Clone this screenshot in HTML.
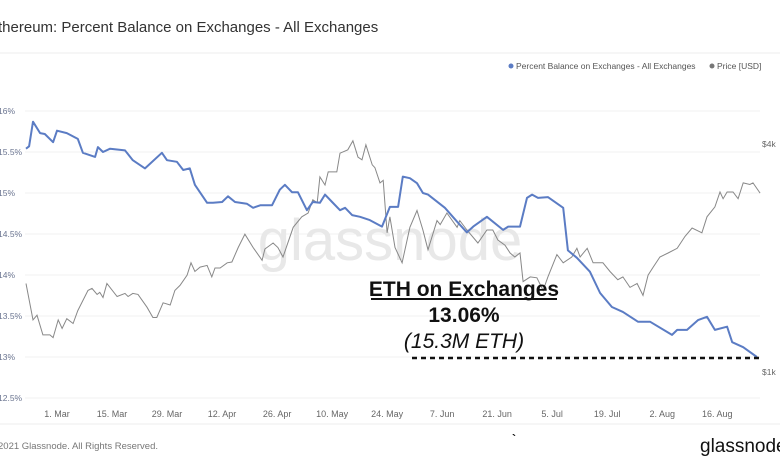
<!DOCTYPE html>
<html><head><meta charset="utf-8">
<style>
body{margin:0;background:#fff;width:780px;height:470px;overflow:hidden;font-family:"Liberation Sans",sans-serif;}
svg{display:block}
</style></head>
<body>
<svg id="chart" width="780" height="470">
  <text x="-2" y="32" font-size="15" fill="#333">thereum: Percent Balance on Exchanges - All Exchanges</text>
  <line x1="0" y1="53" x2="780" y2="53" stroke="#eee"/>
  <g>
    <g><circle cx="511" cy="66" r="2.5" fill="#5b7cc4"/><text x="516" y="69" font-size="8.5" fill="#555">Percent Balance on Exchanges - All Exchanges</text></g>
    <g><circle cx="712" cy="66" r="2.5" fill="#777"/><text x="717" y="69" font-size="8.5" fill="#555">Price [USD]</text></g>
  </g>
  <g id="grid"></g>
  <text x="390" y="260" font-size="58" fill="#e8e8e8" text-anchor="middle">glassnode</text>
  <g id="yaxis"></g>
  <g id="xaxis"></g>
  <text x="762" y="147" font-size="8.5" fill="#666">$4k</text>
  <text x="762" y="375" font-size="8.5" fill="#666">$1k</text>
  <path id="priceLine" fill="none" stroke="#888" stroke-width="1"/>
  <path id="pctLine" fill="none" stroke="#5b7cc4" stroke-width="2" stroke-linejoin="round"/>
  <g>
    <text x="464" y="296" font-size="21" font-weight="bold" text-anchor="middle" fill="#111">ETH on Exchanges</text>
    <line x1="371" y1="299" x2="557" y2="299" stroke="#111" stroke-width="2"/>
    <text x="464" y="322" font-size="21" font-weight="bold" text-anchor="middle" fill="#111">13.06%</text>
    <text x="464" y="348" font-size="21" font-style="italic" text-anchor="middle" fill="#111">(15.3M ETH)</text>
    <line x1="412" y1="358" x2="760" y2="358" stroke="#111" stroke-width="2.5" stroke-dasharray="5,4"/>
  </g>
  <line x1="0" y1="424" x2="780" y2="424" stroke="#eee"/>
  <text x="-2" y="449" font-size="9.5" fill="#777">2021 Glassnode. All Rights Reserved.</text>
  <text x="512" y="443" font-size="12" font-weight="bold" fill="#111">`</text>
  <text x="700" y="452" font-size="19" fill="#111">glassnode</text>
</svg>
<script>
const pctDays=[-7.9,-7.1,-6.1,-4.3,-3.1,-1,0,2.5,5.3,6.6,9.7,10.4,11.7,13.5,17.3,19.3,22.4,26.7,28,30.5,32.1,33.8,35.1,38.2,39.7,42,43.5,45.3,48.3,49.9,51.7,54.7,56.7,58,59.8,61.3,63.6,65.1,66.9,68.2,70,72,73.3,75.1,77.1,79.6,82.7,84.2,84.7,86.8,88,89.8,91.6,93.1,94.4,98.7,101.8,104.3,105.9,109.4,113.5,114.8,117.8,119.6,120.9,122.4,124.9,128.8,130,132.3,135.6,138.2,141.2,144,147.8,150.9,156.5,157.8,160.3,163.1,165.4,167.4,170.5,171.8,174.6,178.1];
const pctValues=[15.54,15.57,15.87,15.73,15.72,15.62,15.76,15.73,15.66,15.49,15.44,15.56,15.5,15.54,15.52,15.4,15.3,15.49,15.4,15.38,15.28,15.3,15.1,14.88,14.88,14.89,14.96,14.89,14.87,14.82,14.85,14.85,15.04,15.1,15.01,15.01,14.79,14.89,14.88,14.98,14.89,14.79,14.82,14.73,14.71,14.67,14.59,14.77,14.83,14.83,15.2,15.18,15.12,15.0,14.98,14.82,14.65,14.52,14.59,14.71,14.55,14.59,14.59,14.94,14.98,14.94,14.95,14.82,14.3,14.21,14.04,13.78,13.61,13.55,13.43,13.43,13.27,13.33,13.33,13.45,13.49,13.33,13.37,13.18,13.12,13.0];
const priceDays=[-7.9,-6.1,-5.1,-3.6,-1.8,-1,0.3,1.3,2.5,4.1,5.3,7.9,8.9,10.2,10.9,11.7,12.7,15.3,17.3,18.1,19.3,20.6,22.9,24.4,25.4,27,28.8,30,31.3,33.1,34.1,35.1,36.4,38.2,39.4,40.2,41.5,43.3,44.5,46.1,47.8,49.9,52.2,52.9,55,56.2,57.5,60.1,62.3,63.9,65.1,66.2,66.9,68.2,69,71.2,72,74,75.3,76.6,77.6,78.6,80.2,80.9,82.2,83,84,84.7,86,87.8,89.8,91.6,93.1,94.4,96.7,97.5,99.2,101.8,102.5,104.3,107.1,109.4,110.9,112.2,114,115.3,116.5,117.8,118.6,120.4,122.1,123.7,124.9,127.2,128.8,131,132.3,133.1,134.9,136.4,138.9,140.7,142.7,144,145.8,147.6,149.1,150.4,151.7,153.4,155.5,157.8,159.8,161.6,164.1,165.4,167.4,168.7,169.5,170.5,172,173.3,174.6,176.3,177.1,178.9];
const priceK=[1.70,1.36,1.40,1.24,1.24,1.22,1.36,1.29,1.37,1.33,1.44,1.63,1.65,1.59,1.61,1.56,1.70,1.57,1.60,1.57,1.60,1.59,1.47,1.38,1.38,1.51,1.49,1.63,1.68,1.79,1.93,1.83,1.88,1.90,1.77,1.87,1.87,1.93,1.94,2.12,2.30,2.12,1.96,2.10,2.18,2.12,2.00,2.40,2.56,2.62,2.84,2.79,3.27,3.11,3.37,3.37,3.78,3.86,4.08,3.69,3.63,3.98,3.52,3.46,3.15,3.2,2.32,2.56,2.12,1.93,2.40,2.66,2.36,2.09,2.50,2.44,2.62,2.40,2.50,2.36,2.18,2.36,2.36,2.22,2.15,2.05,2.00,2.05,1.72,1.77,1.76,1.63,1.77,2.03,1.93,2.00,2.11,2.00,2.11,1.93,1.93,1.83,1.74,1.77,1.66,1.70,1.58,1.79,1.88,2.00,2.05,2.11,2.27,2.39,2.32,2.56,2.72,2.98,2.86,2.98,2.98,2.86,3.15,3.12,3.15,2.96];
const pctTicks=[16,15.5,15,14.5,14,13.5,13,12.5];
const xTickDays=[0,14,28,42,56,70,84,98,112,126,140,154,168];
const xTickLabels=["1. Mar","15. Mar","29. Mar","12. Apr","26. Apr","10. May","24. May","7. Jun","21. Jun","5. Jul","19. Jul","2. Aug","16. Aug"];

const NS="http://www.w3.org/2000/svg";
function xS(d){return 57+d*3.93;}
function yP(v){return 357-(v-13)*82;}
function yPrice(k){return 144+163.03*Math.log(4/k);}

const grid=document.getElementById('grid'),yax=document.getElementById('yaxis'),xax=document.getElementById('xaxis');
pctTicks.forEach(v=>{
  const l=document.createElementNS(NS,'line');
  l.setAttribute('x1',25);l.setAttribute('x2',760);l.setAttribute('y1',yP(v));l.setAttribute('y2',yP(v));
  l.setAttribute('stroke','#f0f0f0');
  
  
  grid.appendChild(l);
  const t=document.createElementNS(NS,'text');
  t.setAttribute('x',-2);t.setAttribute('y',yP(v)+3);t.setAttribute('font-size','8.5');t.setAttribute('fill','#6a7490');
  t.textContent=v+'%';
  
  
  yax.appendChild(t);
});
xTickDays.forEach((d,i)=>{
  const t=document.createElementNS(NS,'text');
  t.setAttribute('x',xS(d));t.setAttribute('y',417);t.setAttribute('font-size','9');t.setAttribute('fill','#666');t.setAttribute('text-anchor','middle');
  t.textContent=xTickLabels[i];
  
  
  xax.appendChild(t);
});
document.getElementById('pctLine').setAttribute('d',pctDays.map((d,i)=>(i?'L':'M')+xS(d).toFixed(1)+','+yP(pctValues[i]).toFixed(1)).join(''));
document.getElementById('priceLine').setAttribute('d',priceDays.map((d,i)=>(i?'L':'M')+xS(d).toFixed(1)+','+yPrice(priceK[i]).toFixed(1)).join(''));
</script>
</body></html>
